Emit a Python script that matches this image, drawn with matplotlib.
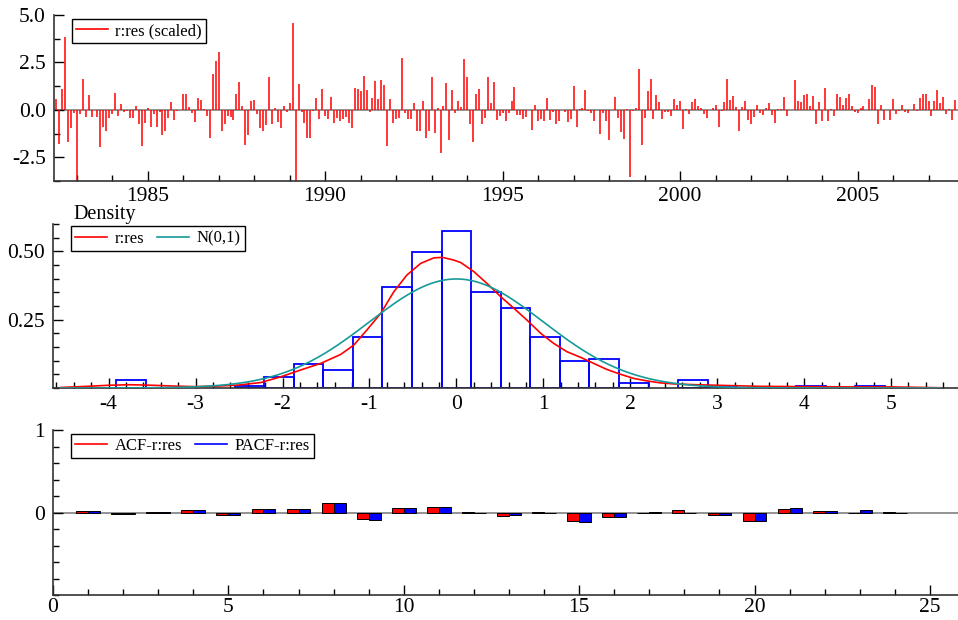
import numpy as np
import matplotlib
matplotlib.use("Agg")
import matplotlib.pyplot as plt
from matplotlib.lines import Line2D
from matplotlib.ticker import MultipleLocator, FixedLocator, FormatStrFormatter

plt.rcParams["font.family"] = ["Liberation Serif", "DejaVu Serif"]
plt.rcParams["axes.unicode_minus"] = False

# scaled residuals, monthly from 1982(6) to 2007(10)
start_year, start_month = 1982, 6
res_scaled = [
    0.58, -1.79, 1.1, 3.86, -1.72, -0.93, -0.15, -4.0, -0.23, 1.63, -0.4, 0.8,
    -0.39, 0.0, -0.39, -1.98, -0.88, -1.09, -0.44, -0.2, 0.88, -0.3, 0.3, -0.09,
    -0.05, -0.44, -0.44, 0.21, -0.75, -1.9, -0.68, 0.09, -0.91, -0.23, -0.91, -0.09,
    -1.32, -1.14, -0.44, 0.42, -0.53, -0.05, 0.0, 0.84, 0.84, 0.14, -0.18, -0.65,
    0.61, 0.53, 0.07, -0.3, -1.5,
    1.89, 2.58, 3.05, -1.1, -0.75, -0.35, -0.39, -0.53, 0.84, 1.47, 0.21, -1.84,
    -1.35, 0.46, 0.53, -0.23, -0.96, -1.09, -0.82, 1.72, -0.75, 0.12, -0.65, -0.98,
    0.19, -0.09, 0.37, 4.58, -4.0, 1.35, -0.12, -0.7, -1.49, -1.46, -0.04, 0.63,
    -0.49, 1.09, -0.33, -0.46, 0.67, -0.7, -0.42, -0.61, -0.46, -0.4, -0.7, -0.95,
    1.16, 1.1, 1.02, 1.77, 1.05, -0.09,
    0.63, 1.53, 0.58, 1.58, 1.3, -1.89, 0.58, -0.7, -0.46, -0.42, 2.74, -0.18,
    -0.46, -0.49, 0.35, -1.09, -1.1, 0.46, -1.46, -1.1, 1.72, -1.23, 0.1, -2.25,
    0.21, 1.42, -1.58, 1.05, -0.19, 0.46, 0.14, 2.67, 1.74, -0.72, -1.7, 0.84,
    1.12, -0.74, -0.42, 1.74, 0.35, 1.47, -0.53, -0.3, -0.19, -0.61, -0.16, 0.46,
    1.21, -0.25, -0.28, -0.49, -0.39,
    0.0, -1.05, 0.23, -0.61, -0.46, -0.6, 0.6, -0.53, -0.09, -0.77, -0.58, 0.0,
    -0.09, -0.65, -0.49, 1.26, -0.88, 0.07, 0.12, 1.07, -0.07, -0.14, -0.61, 0.0,
    -1.26, -0.18, -0.61, -1.61, 0.0, 0.7, -0.44, -1.19, -1.51, 0.07, -3.54, -0.07,
    0.09, 2.16, -1.84, -0.44, 1.0, 1.63, -0.49, 0.77, 0.42, -0.46, -0.09, -0.09,
    -0.32, 0.56, 0.25, 0.47, -1.0, 0.07, -0.21,
    0.39, 0.56, 0.21, 0.12, -0.21, -0.42, 0.0, 0.09, 0.26, -0.91, -0.07, 0.44,
    1.63, 0.53, 0.74, 0.14, -1.14, 0.14, 0.47, -0.51, -0.74, -0.4, 0.23, -0.19,
    -0.28, 0.1, 0.35, -0.25, -0.67, 0.07, 0.05, 0.68, -0.3, 0.0, 0.0, 1.56,
    0.47, 0.42, 0.79, 0.84, 0.18, 0.74, -0.74, 0.42, -0.58, 1.14, -0.61, 0.07,
    -0.3, 0.84, 0.7, 0.26, 0.6, 0.82,
    0.21, -0.12, -0.19, 0.09, 0.21, 0.0, 0.58, 1.32, 1.19, -0.72, 0.25, -0.51,
    0.0, -0.54, 0.58, -0.21, -0.07, 0.25, -0.12, -0.14, 0.0, 0.33, -0.05, 0.61,
    0.81, 0.84, 0.49, -0.3, 0.47, 1.04, 0.35, 0.67, -0.21, 0.07, -0.56, 0.53,
]

# histogram density of r:res (bins of width 0.34 starting at -4.59)
hist_lo, hist_width = -4.59, 0.34
hist_density = [
    0.0, 0.0, 0.028, 0.0, 0.0, 0.0, 0.008, 0.039, 0.087, 0.067, 0.185, 0.37,
    0.497, 0.576, 0.35, 0.292, 0.185, 0.098, 0.106, 0.018, 0.0, 0.028, 0.009,
    0.0, 0.0, 0.009, 0.0, 0.009,
]

# estimated density of r:res
kde_x = [-4.55, -4.25, -4.0, -3.75, -3.5, -3.25, -3.0, -2.75, -2.5, -2.25,
         -2.02, -1.79, -1.56, -1.33, -1.18, -1.03, -0.87, -0.72, -0.57, -0.41,
         -0.26, -0.16, -0.03, 0.05, 0.2, 0.35, 0.51, 0.66, 0.81, 0.97, 1.12,
         1.27, 1.43, 1.58, 1.73, 1.89, 2.04, 2.19, 2.34, 2.5, 2.75, 3.0, 3.5,
         4.0, 4.5, 5.0, 5.56]
kde_y = [0.002, 0.006, 0.010, 0.012, 0.010, 0.007, 0.005, 0.007, 0.011, 0.020,
         0.041, 0.066, 0.090, 0.123, 0.157, 0.212, 0.273, 0.352, 0.413, 0.456,
         0.476, 0.478, 0.468, 0.459, 0.426, 0.383, 0.334, 0.292, 0.249, 0.200,
         0.163, 0.133, 0.112, 0.090, 0.068, 0.050, 0.035, 0.026, 0.019, 0.015,
         0.012, 0.010, 0.006, 0.005, 0.004, 0.004, 0.001]

lags = np.arange(1, 25)
acf = [0.024, -0.016, 0.004, 0.028, -0.028, 0.04, 0.048, 0.12, -0.084, 0.052,
       0.072, 0.008, -0.04, 0.012, -0.108, -0.052, -0.012, 0.028, -0.028, -0.1,
       0.048, 0.024, -0.012, 0.004]
pacf = [0.024, -0.016, 0.003, 0.028, -0.028, 0.04, 0.048, 0.12, -0.092, 0.06,
        0.068, 0.0, -0.032, -0.008, -0.116, -0.052, 0.008, -0.004, -0.028, -0.1,
        0.06, 0.024, 0.032, 0.0]

TEAL = "#169a9a"
TICK_FS = 15.5
LEG_FS = 12

fig = plt.figure(figsize=(9.58, 6.2), dpi=100)
W, H = 958, 620


def add_ax(left, top, right, bottom):
    return fig.add_axes([left / W, 1 - bottom / H, (right - left) / W, (bottom - top) / H])


def style(ax):
    for s in ("top", "right"):
        ax.spines[s].set_visible(False)
    for s in ("left", "bottom"):
        ax.spines[s].set_linewidth(1.2)
        ax.spines[s].set_color("#333333")
    ax.tick_params(which="major", direction="in", length=7, width=1, labelsize=TICK_FS, pad=6)
    ax.tick_params(which="minor", direction="in", length=4, width=1)
    ax.set_facecolor("white")


def legend(ax, handles, labels, ncol=1, y=0.975):
    leg = ax.legend(handles, labels, loc="upper left", bbox_to_anchor=(0.02, y),
                    ncol=ncol, fontsize=LEG_FS, frameon=True, fancybox=False,
                    framealpha=1, edgecolor="black", handlelength=1.9,
                    handletextpad=0.45, columnspacing=0.8, borderpad=0.25,
                    borderaxespad=0)
    leg.get_frame().set_linewidth(1.0)
    return leg


# --- top: scaled residuals ---
ax1 = add_ax(54, 15, 958, 181)
style(ax1)
t = np.array([start_year + (start_month - 1 + i) / 12 for i in range(len(res_scaled))])
ax1.axhline(0, color="#808080", lw=1.2, zorder=1)
ax1.vlines(t, 0, res_scaled, color="red", lw=1.1, zorder=2)
ax1.set_xlim(1982.36, 2007.83)
ax1.set_ylim(-3.75, 5.0)
ax1.yaxis.set_major_locator(FixedLocator([-2.5, 0.0, 2.5, 5.0]))
ax1.yaxis.set_major_formatter(FormatStrFormatter("%.1f"))
ax1.yaxis.set_minor_locator(MultipleLocator(1.25))
ax1.xaxis.set_major_locator(MultipleLocator(5))
ax1.xaxis.set_minor_locator(MultipleLocator(1))
ax1.tick_params(axis="x", pad=4)
legend(ax1, [Line2D([], [], color="red", lw=1.2)], ["r:res (scaled)"])

# --- middle: density ---
ax2 = add_ax(53, 224, 958, 388)
style(ax2)
edges = hist_lo + hist_width * np.arange(len(hist_density))
dens = np.array(hist_density)
keep = dens > 0
ax2.bar(edges[keep], dens[keep], width=hist_width, align="edge", fill=False,
        edgecolor="blue", lw=1.3, zorder=2)
ax2.plot(kde_x, kde_y, color="red", lw=1.2, zorder=3)
xn = np.linspace(-4.55, 5.56, 400)
ax2.plot(xn, np.exp(-xn ** 2 / 2) / np.sqrt(2 * np.pi), color=TEAL, lw=1.2, zorder=3)
ax2.set_xlim(-4.64, 5.77)
ax2.set_ylim(0, 0.60)
ax2.xaxis.set_major_locator(MultipleLocator(1))
ax2.xaxis.set_minor_locator(MultipleLocator(0.2))
ax2.yaxis.set_major_locator(FixedLocator([0.25, 0.5]))
ax2.yaxis.set_major_formatter(FormatStrFormatter("%.2f"))
ax2.yaxis.set_minor_locator(MultipleLocator(0.05))
ax2.tick_params(axis="x", pad=5)
legend(ax2, [Line2D([], [], color="red", lw=1.2), Line2D([], [], color=TEAL, lw=1.2)],
       ["r:res", "N(0,1)"], ncol=2, y=0.985)
fig.text(73 / W, 1 - 219 / H, "Density", fontsize=14.5, ha="left", va="baseline")

# --- bottom: ACF / PACF ---
ax3 = add_ax(53, 430, 958, 595)
style(ax3)
bw = 0.34
ax3.axhline(0, color="#808080", lw=1.2, zorder=1)
ax3.bar(lags - bw / 2, acf, width=bw, color="red", edgecolor="black", lw=0.7, zorder=2)
ax3.bar(lags + bw / 2, pacf, width=bw, color="blue", edgecolor="black", lw=0.7, zorder=2)
ax3.set_xlim(0.0, 25.8)
ax3.set_ylim(-1.0, 1.0)
ax3.xaxis.set_major_locator(MultipleLocator(5))
ax3.xaxis.set_minor_locator(MultipleLocator(1))
ax3.yaxis.set_major_locator(FixedLocator([0, 1]))
ax3.yaxis.set_minor_locator(MultipleLocator(0.2))
ax3.tick_params(axis="x", pad=2)
legend(ax3, [Line2D([], [], color="red", lw=1.2), Line2D([], [], color="blue", lw=1.2)],
       ["ACF-r:res", "PACF-r:res"], ncol=2)

fig.savefig("out.png", dpi=100, facecolor="white")
